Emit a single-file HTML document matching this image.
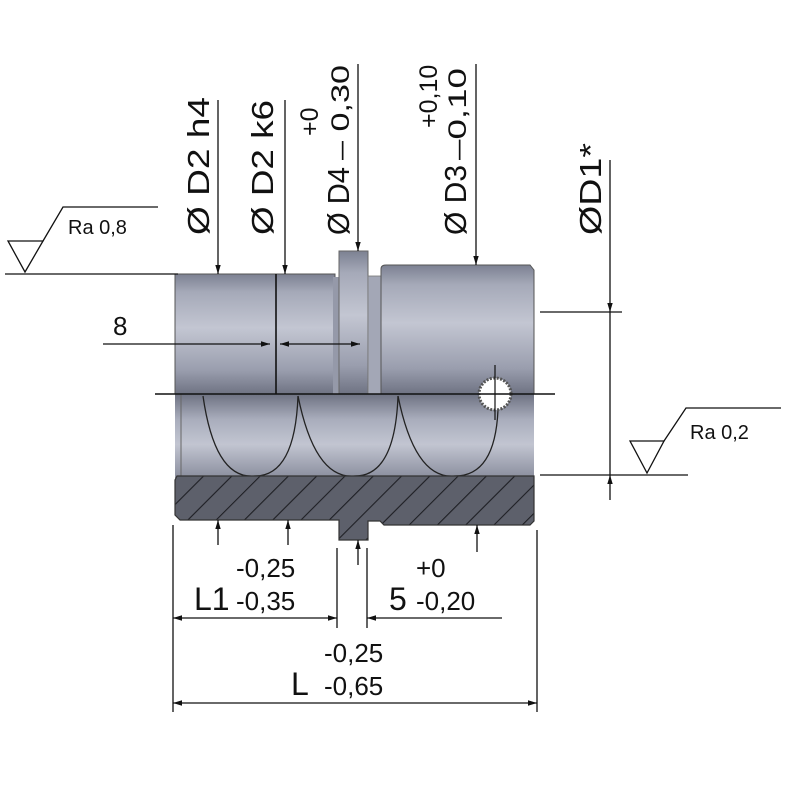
<!DOCTYPE html>
<html><head><meta charset="utf-8"><style>
html,body{margin:0;padding:0;background:#fff;}
svg{display:block;}
text{font-family:"Liberation Sans",sans-serif;fill:#111;}
</style></head><body>
<svg width="800" height="800" viewBox="0 0 800 800" xmlns="http://www.w3.org/2000/svg">
<defs>
<linearGradient id="g1" x1="0" y1="0" x2="0" y2="1">
<stop offset="0" stop-color="#7c8192"/><stop offset="0.15" stop-color="#a5a9b8"/><stop offset="0.45" stop-color="#c3c6d2"/><stop offset="0.8" stop-color="#9a9eae"/><stop offset="1" stop-color="#6f7383"/>
</linearGradient>
<linearGradient id="g2" x1="0" y1="0" x2="0" y2="1">
<stop offset="0" stop-color="#6e7282"/><stop offset="0.3" stop-color="#a9adbc"/><stop offset="0.6" stop-color="#c2c5d1"/><stop offset="1" stop-color="#8a8e9e"/>
</linearGradient>
<pattern id="hatch" patternUnits="userSpaceOnUse" width="20" height="20" patternTransform="rotate(45)">
<rect width="20" height="20" fill="#5d606b"/><line x1="0" y1="0" x2="0" y2="20" stroke="#1e1f24" stroke-width="2.2"/>
</pattern>
<marker id="ah" viewBox="0 0 10 10" refX="10" refY="5" markerWidth="9" markerHeight="9" orient="auto-start-reverse" markerUnits="userSpaceOnUse"><path d="M0,2 L10,5 L0,8 z" fill="#111"/></marker>
</defs>

<rect x="175" y="274" width="160" height="120" fill="url(#g1)" stroke="#555" stroke-width="1"/>
<rect x="333" y="277" width="7" height="117" fill="#9599a9"/>
<rect x="339" y="251" width="29" height="143" fill="url(#g1)" stroke="#666" stroke-width="1"/>
<rect x="368" y="276" width="13" height="118" fill="#a3a7b6" stroke="#777" stroke-width="0.8"/>
<path d="M381,269 Q381,265 386,265 L530,265 L534,270 L534,394 L381,394 z" fill="url(#g1)" stroke="#555" stroke-width="1"/>
<rect x="175" y="394" width="359" height="84" fill="url(#g2)"/>
<line x1="181" y1="394" x2="181" y2="478" stroke="#666" stroke-width="1"/>
<path d="M203,396 Q215,480 255,476 Q295,476 298,396" fill="none" stroke="#222" stroke-width="1.3"/>
<path d="M298,396 Q315,480 355,476 Q395,476 398,396" fill="none" stroke="#222" stroke-width="1.3"/>
<path d="M398,396 Q415,480 455,476 Q495,476 498,410" fill="none" stroke="#222" stroke-width="1.3"/>
<path d="M177,476 L534,476 L534,521 L530,525 L384,525 L380,521 L368,521 L368,540 L339,540 L339,520 L180,520 L175,515 L175,480 z" fill="url(#hatch)" stroke="#333" stroke-width="1.2"/>
<circle cx="495" cy="394" r="16" fill="#fff" stroke="#555" stroke-width="3" stroke-dasharray="2 1.5"/>
<line x1="495" y1="365" x2="495" y2="420" stroke="#111" stroke-width="1.2"/>
<line x1="155" y1="394" x2="555" y2="394" stroke="#111" stroke-width="1.4"/>
<line x1="276" y1="274" x2="276" y2="394" stroke="#111" stroke-width="1.6"/>
<line x1="103" y1="344" x2="270" y2="344" stroke="#111" stroke-width="1.3" marker-end="url(#ah)"/>
<line x1="280" y1="344" x2="360" y2="344" stroke="#111" stroke-width="1.3" marker-start="url(#ah)" marker-end="url(#ah)"/>
<text x="113" y="335" font-size="26">8</text>

<line x1="5" y1="274" x2="178" y2="274" stroke="#111" stroke-width="1.3"/>
<path d="M8,241 L43,241 L25,272 z" fill="none" stroke="#111" stroke-width="1.3"/>
<path d="M43,241 L63,207 L158,207" fill="none" stroke="#111" stroke-width="1.3"/>
<text x="68" y="234" font-size="20">Ra 0,8</text>

<line x1="540" y1="312" x2="622" y2="312" stroke="#111" stroke-width="1.3"/>
<line x1="540" y1="475" x2="688" y2="475" stroke="#111" stroke-width="1.3"/>
<path d="M630,441 L664,441 L647,473 z" fill="none" stroke="#111" stroke-width="1.3"/>
<path d="M664,441 L686,408 L781,408" fill="none" stroke="#111" stroke-width="1.3"/>
<text x="690" y="439" font-size="20">Ra 0,2</text>

<line x1="610" y1="160" x2="610" y2="312" stroke="#111" stroke-width="1.3" marker-end="url(#ah)"/>
<line x1="610" y1="312" x2="610" y2="475" stroke="#111" stroke-width="1.3"/>
<line x1="610" y1="500" x2="610" y2="475" stroke="#111" stroke-width="1.3" marker-end="url(#ah)"/>

<line x1="218" y1="100" x2="218" y2="274" stroke="#111" stroke-width="1.3" marker-end="url(#ah)"/>
<line x1="285" y1="100" x2="285" y2="274" stroke="#111" stroke-width="1.3" marker-end="url(#ah)"/>
<line x1="358" y1="64" x2="358" y2="251" stroke="#111" stroke-width="1.3" marker-end="url(#ah)"/>
<line x1="476" y1="64" x2="476" y2="265" stroke="#111" stroke-width="1.3" marker-end="url(#ah)"/>

<g font-size="31">
<text transform="translate(209,235) rotate(-90)" textLength="138" lengthAdjust="spacingAndGlyphs">Ø D2 h4</text>
<text transform="translate(273,235) rotate(-90)" textLength="135" lengthAdjust="spacingAndGlyphs">Ø D2 k6</text>
<text transform="translate(349,235) rotate(-90)" textLength="68" lengthAdjust="spacingAndGlyphs">Ø D4</text>
<text transform="translate(466,235) rotate(-90)" textLength="70" lengthAdjust="spacingAndGlyphs">Ø D3</text>
<text transform="translate(601,235) rotate(-90)" textLength="92" lengthAdjust="spacingAndGlyphs">ØD1*</text>
</g>
<g font-size="25">
<text transform="translate(349,160) rotate(-90)" textLength="95" lengthAdjust="spacingAndGlyphs">– 0,30</text>
<text transform="translate(318,136) rotate(-90)">+0</text>
<text transform="translate(466,160) rotate(-90)" textLength="92" lengthAdjust="spacingAndGlyphs">–0,10</text>
<text transform="translate(437,128) rotate(-90)">+0,10</text>
</g>

<line x1="218" y1="545" x2="218" y2="520" stroke="#111" stroke-width="1.3" marker-end="url(#ah)"/>
<line x1="288" y1="545" x2="288" y2="520" stroke="#111" stroke-width="1.3" marker-end="url(#ah)"/>
<line x1="358" y1="565" x2="358" y2="540" stroke="#111" stroke-width="1.3" marker-end="url(#ah)"/>
<line x1="477" y1="552" x2="477" y2="525" stroke="#111" stroke-width="1.3" marker-end="url(#ah)"/>

<line x1="173" y1="525" x2="173" y2="712" stroke="#111" stroke-width="1.3"/>
<line x1="537" y1="530" x2="537" y2="712" stroke="#111" stroke-width="1.3"/>
<line x1="337" y1="548" x2="337" y2="628" stroke="#111" stroke-width="1.3"/>
<line x1="367" y1="548" x2="367" y2="628" stroke="#111" stroke-width="1.3"/>

<line x1="173" y1="618" x2="337" y2="618" stroke="#111" stroke-width="1.3" marker-start="url(#ah)" marker-end="url(#ah)"/>
<line x1="367" y1="618" x2="502" y2="618" stroke="#111" stroke-width="1.3" marker-start="url(#ah)"/>
<line x1="173" y1="703" x2="537" y2="703" stroke="#111" stroke-width="1.3" marker-start="url(#ah)" marker-end="url(#ah)"/>

<text x="236" y="577" font-size="26">-0,25</text>
<text x="194" y="610" font-size="32">L1</text>
<text x="236" y="610" font-size="26">-0,35</text>
<text x="416" y="577" font-size="26">+0</text>
<text x="389" y="610" font-size="32">5</text>
<text x="416" y="610" font-size="26">-0,20</text>
<text x="324" y="662" font-size="26">-0,25</text>
<text x="291" y="695" font-size="32">L</text>
<text x="324" y="695" font-size="26">-0,65</text>
</svg>
</body></html>
